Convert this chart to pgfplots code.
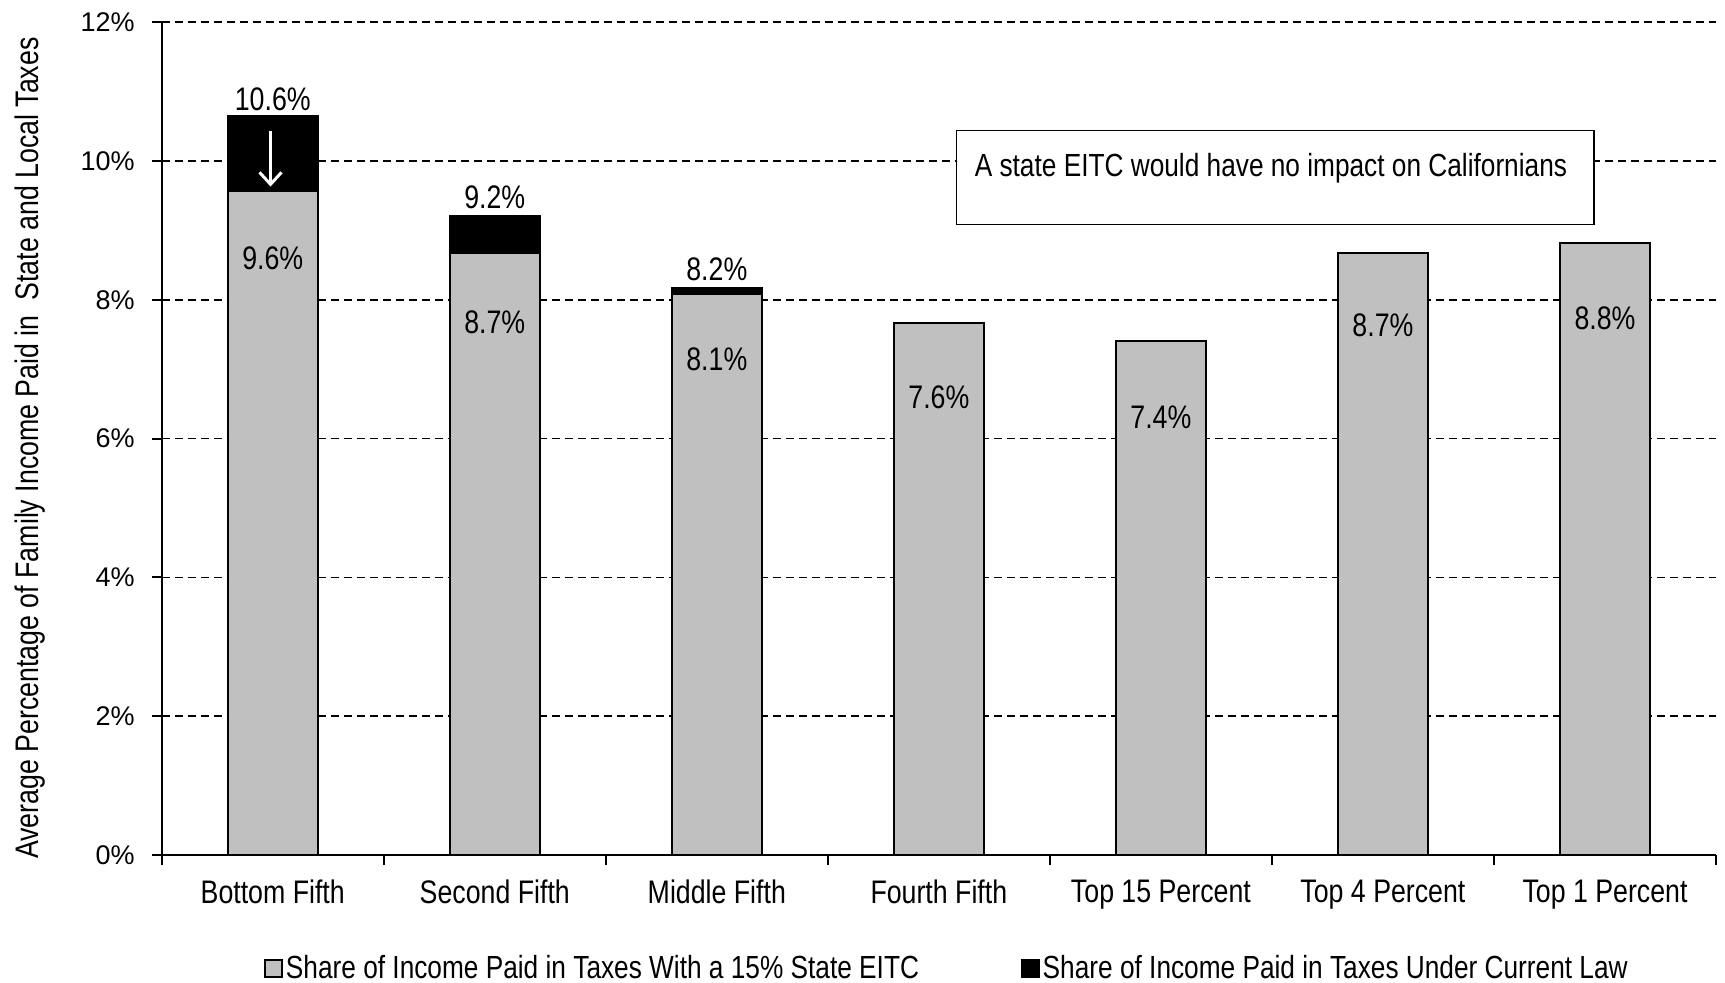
\documentclass[border=0pt]{standalone}
\usepackage{fontspec}
\setmainfont{Liberation Sans}[FakeStretch=0.82]
\newfontfamily\tickfont{Liberation Sans}
\usepackage{pgfplots}
\pgfplotsset{compat=1.18}
\usetikzlibrary{arrows.meta}
\definecolor{barg}{RGB}{192,192,192}
\newcommand{\mainsize}{\fontsize{16.3bp}{19bp}\selectfont}
\begin{document}
\begin{tikzpicture}
\begin{axis}[
  scale only axis, width=777bp, height=416.5bp,
  xmin=-0.5, xmax=6.5, ymin=0, ymax=12,
  clip=false,
  axis x line*=bottom, axis y line*=left,
  axis line style={line width=1bp, -},
  ybar stacked, bar width=0.406,
  xtick={-0.5,0.5,...,6.5},
  x tick label as interval,
  xticklabels={Bottom Fifth, Second Fifth, Middle Fifth, Fourth Fifth, Top 15 Percent, Top 4 Percent, Top 1 Percent},
  xticklabel style={font=\mainsize, yshift=-4bp},
  ytick={0,2,...,12},
  yticklabel={\pgfmathprintnumber{\tick}\%},
  /pgf/number format/assume math mode=true,
  yticklabel style={font=\tickfont\fontsize{13.5bp}{16bp}\selectfont, xshift=-5bp},
  tick align=outside, major tick length=5bp,
  tick style={black, line width=1bp},
  ymajorgrids, xmajorgrids=false,
  grid style={black, line width=0.8bp, dash pattern=on 4bp off 2.5bp},
  ylabel={Average Percentage of Family Income Paid in\ \ State and Local Taxes},
  ylabel style={at={(rel axis cs:-0.0847,0.4886)}, anchor=center, font=\mainsize},
  legend style={at={(rel axis cs:0.0658,-0.1357)}, anchor=west, draw=none, fill=none,
    legend columns=2, font=\fontsize{16bp}{19bp}\selectfont, inner sep=0pt, nodes={inner sep=1.5bp}},
]
\addplot[fill=barg, draw=black, line width=1bp,
  legend image code/.code={\draw[fill=barg, draw=black, line width=0.9bp] (0bp,-4.2bp) rectangle (8.4bp,4.2bp);}]
  coordinates {(0,9.57) (1,8.68) (2,8.08) (3,7.67) (4,7.40) (5,8.68) (6,8.81)};
\addlegendentry{\makebox[366bp][l]{Share of Income Paid in Taxes With a 15\% State EITC}}
\addplot[fill=black, draw=black, line width=1bp,
  legend image code/.code={\draw[fill=black, draw=black, line width=0.9bp] (0bp,-4.2bp) rectangle (8.4bp,4.2bp);}]
  coordinates {(0,1.07) (1,0.52) (2,0.09) (3,0) (4,0) (5,0) (6,0)};
\addlegendentry{Share of Income Paid in Taxes Under Current Law}

\coordinate (t0) at (axis cs:0,10.89);
\coordinate (t1) at (axis cs:1,9.48);
\coordinate (t2) at (axis cs:2,8.44);
\coordinate (i0) at (axis cs:0,8.59);
\coordinate (i1) at (axis cs:1,7.68);
\coordinate (i2) at (axis cs:2,7.14);
\coordinate (i3) at (axis cs:3,6.60);
\coordinate (i4) at (axis cs:4,6.30);
\coordinate (i5) at (axis cs:5,7.63);
\coordinate (i6) at (axis cs:6,7.73);
\coordinate (a1) at (axis cs:-0.01,10.43);
\coordinate (a2) at (axis cs:-0.01,9.63);
\coordinate (b1) at (axis cs:3.08,9.08);
\coordinate (b2) at (axis cs:5.95,10.44);
\coordinate (bt) at (axis cs:3.16,9.89);
\end{axis}
\node[font=\mainsize] at (t0) {10.6\%};
\node[font=\mainsize] at (t1) {9.2\%};
\node[font=\mainsize] at (t2) {8.2\%};
\node[font=\mainsize] at (i0) {9.6\%};
\node[font=\mainsize] at (i1) {8.7\%};
\node[font=\mainsize] at (i2) {8.1\%};
\node[font=\mainsize] at (i3) {7.6\%};
\node[font=\mainsize] at (i4) {7.4\%};
\node[font=\mainsize] at (i5) {8.7\%};
\node[font=\mainsize] at (i6) {8.8\%};
\draw[white, line width=1.5bp, -{Straight Barb[length=6bp,width=11bp,line width=1.5bp]}] (a1) -- (a2);
\draw[fill=white, draw=black, line width=0.75bp] (b1) rectangle (b2);
\node[font=\fontsize{16bp}{19bp}\selectfont, anchor=west, inner sep=0pt] at (bt) {A state EITC would have no impact on Californians};
\pgfresetboundingbox
\path ([shift={(-80.85bp,-63.5bp)}]current axis.south west) rectangle ([shift={(4.5bp,11bp)}]current axis.north east);
\end{tikzpicture}
\end{document}
